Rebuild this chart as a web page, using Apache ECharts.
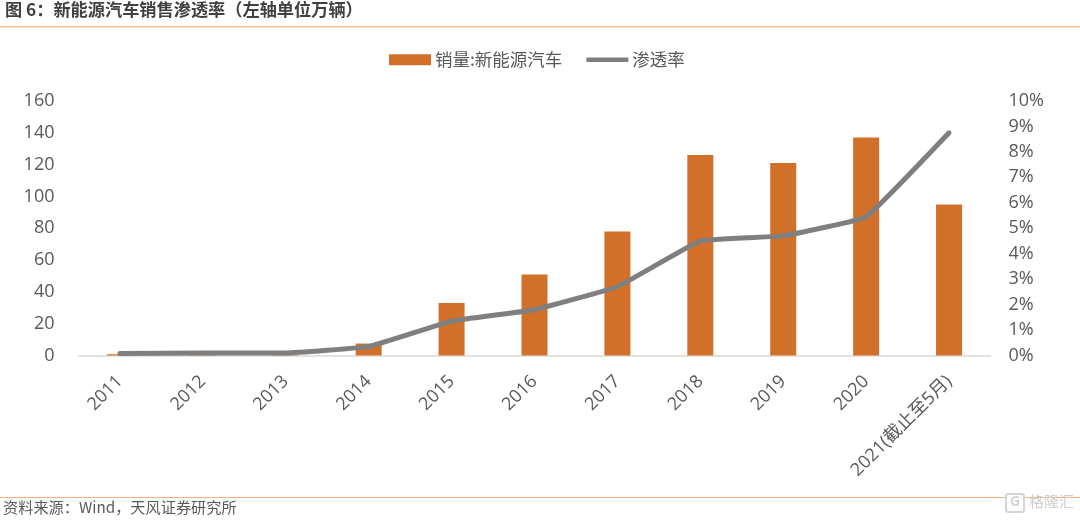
<!DOCTYPE html>
<html><head><meta charset="utf-8">
<script src="https://cdn.jsdelivr.net/npm/echarts@6/dist/echarts.min.js"></script>
<style>html,body{margin:0;padding:0;background:#fff}#c{width:1080px;height:520px}</style></head>
<body><div id="c"></div>
<script>
const categories = ['2011','2012','2013','2014','2015','2016','2017','2018','2019','2020','2021(截止至5月)'];
const sales = [0.8,0.3,0.3,7.5,33,51,78,126,121,137,95];
const penetration = [0.08,0.1,0.1,0.35,1.35,1.8,2.7,4.5,4.7,5.45,8.75];
const leftTicks = [0,20,40,60,80,100,120,140,160];
const font = '"Open Sans","Noto Sans CJK SC",sans-serif';
const cjk = '"Noto Sans CJK SC",sans-serif';
const gray = '#595959';
const chart = echarts.init(document.getElementById('c'), null, {renderer:'canvas'});
chart.setOption({
  animation:false,
  backgroundColor:'#fff',
  title:{text:'图 6：新能源汽车销售渗透率（左轴单位万辆）',left:5,top:1,padding:0,
    textStyle:{fontFamily:cjk,fontSize:17.2,fontWeight:'bold',color:'#404040'}},
  legend:{top:46,left:384,itemGap:24,itemWidth:42,itemHeight:11,
    textStyle:{fontFamily:cjk,fontSize:17.5,color:gray,padding:[0,0,0,-1]},
    data:[{name:'销量:新能源汽车',icon:'rect'},
          {name:'渗透率',icon:'path://M0,0 L0.01,0 Z M0,33 H420 V77 H0 Z M0,110 L0.01,110 Z'}]},
  grid:{left:78.5,right:89.5,top:101,bottom:164.5,containLabel:false},
  xAxis:{type:'category',data:categories,
    axisLine:{lineStyle:{color:'#d9d9d9',width:1.5}},axisTick:{show:false},
    axisLabel:{rotate:45,interval:0,margin:23,fontFamily:font,fontSize:18,color:gray}},
  yAxis:[
    {type:'value',min:0,max:leftTicks[leftTicks.length-1],interval:20,splitLine:{show:false},
      axisLine:{show:false},axisTick:{show:false},
      axisLabel:{margin:24,fontFamily:font,fontSize:18,color:gray}},
    {type:'value',min:0,max:10,interval:1,splitLine:{show:false},
      axisLine:{show:false},axisTick:{show:false},
      axisLabel:{margin:18,fontFamily:font,fontSize:18,color:gray,formatter:'{value}%'}}
  ],
  series:[
    {name:'销量:新能源汽车',type:'bar',data:sales,barWidth:26,yAxisIndex:0,
      itemStyle:{color:'#d2702a'}},
    {name:'渗透率',type:'line',data:penetration,yAxisIndex:1,smooth:0.08,symbol:'none',
      lineStyle:{color:'#7f7f7f',width:5,cap:'round'},itemStyle:{color:'#7f7f7f'}}
  ],
  graphic:[
    {type:'rect',shape:{x:0,y:26,width:1080,height:1.5},style:{fill:'#f9c08c'}},
    {type:'rect',shape:{x:0,y:497,width:1080,height:1},style:{fill:'#f4b183'}},
    {type:'text',left:3,top:500,style:{text:'资料来源：Wind，天风证券研究所',fontFamily:cjk,fontSize:15.2,fill:'#595959'}},
    {type:'rect',z:10,shape:{x:1006,y:494,width:18,height:18,r:2},style:{fill:'rgba(255,255,255,0.85)',stroke:'#d4d4d4',lineWidth:2}},
    {type:'text',z:11,left:1010,top:495,style:{text:'G',fontFamily:font,fontSize:14,fontWeight:'bold',fill:'#d4d4d4'}},
    {type:'text',z:10,left:1029,top:494,style:{text:'格隆汇',fontFamily:cjk,fontSize:15,fill:'#cfcfcf'}}
  ]
});
</script></body></html>
